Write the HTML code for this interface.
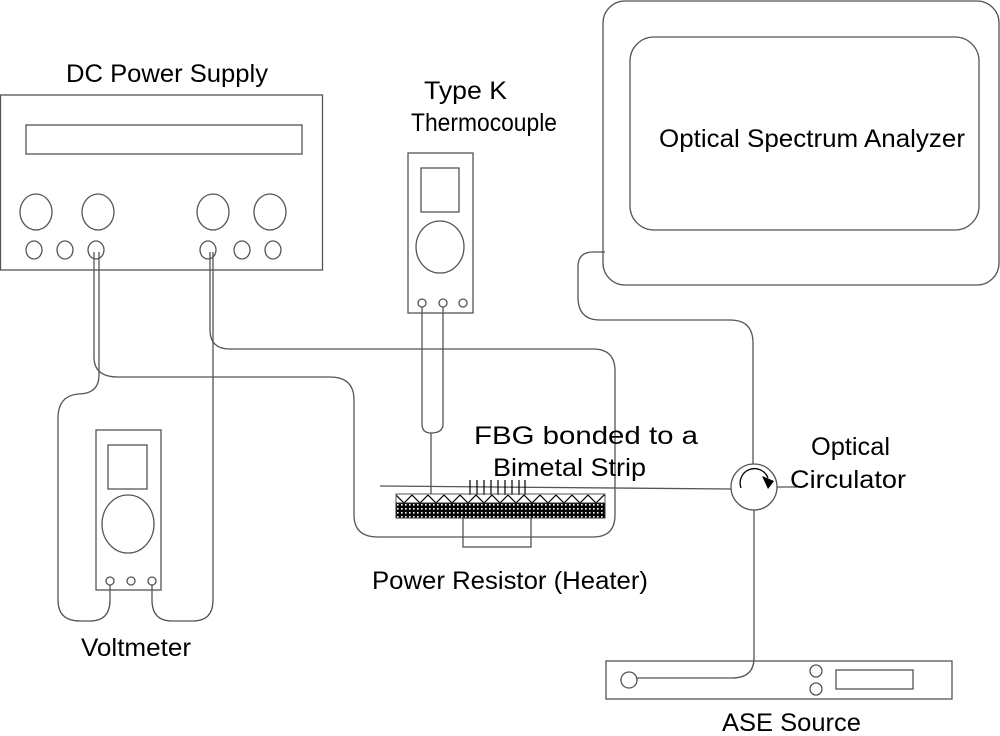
<!DOCTYPE html>
<html><head><meta charset="utf-8"><style>
html,body{margin:0;padding:0;background:#fff;}
svg{display:block;}
text{font-family:"Liberation Sans",Arial,sans-serif;fill:#000;}
</style></head><body>
<svg width="1000" height="736" viewBox="0 0 1000 736" xmlns="http://www.w3.org/2000/svg">
<defs>
<pattern id="tri" x="396" y="494" width="16" height="10" patternUnits="userSpaceOnUse">
<path d="M0,1 L8,9 L16,1" stroke="#000" stroke-width="1.2" fill="none"/>
</pattern>
<pattern id="dots" x="396" y="503" width="4" height="4" patternUnits="userSpaceOnUse">
<rect width="4" height="4" fill="#000"/><rect x="1" y="1" width="1.6" height="1.6" fill="#fff"/>
</pattern>
</defs>
<g fill="none" stroke="#555" stroke-width="1.3">
<rect x="0.5" y="95" width="322" height="175"/>
<rect x="26" y="125" width="276" height="29"/>
<ellipse cx="36" cy="212" rx="16" ry="18"/>
<ellipse cx="98" cy="212" rx="16" ry="18"/>
<ellipse cx="213" cy="212" rx="16" ry="18"/>
<ellipse cx="270" cy="212" rx="16" ry="18"/>
<ellipse cx="34" cy="250" rx="8" ry="9"/>
<ellipse cx="65" cy="250" rx="8" ry="9"/>
<ellipse cx="96" cy="250" rx="8" ry="9"/>
<ellipse cx="208" cy="250" rx="8" ry="9"/>
<ellipse cx="242" cy="250" rx="8" ry="9"/>
<ellipse cx="273" cy="250" rx="8" ry="9"/>
<path d="M94,252 V357 Q94,377 118,377 H330 Q354,377 354,400 V515 Q354,537 378,537 H593 Q615,537 615,515 V371 Q615,349 593,349 H230 Q210,349 210,330 V252"/>
<path d="M99,252 V375 Q99,394 78,394 Q58,396 58,418 V600 Q58,621 80,621 H90 Q110,621 110,600 V585"/>
<path d="M213,252 V600 Q213,621 193,621 H172 Q152,621 152,600 V585"/>
<rect x="96" y="430" width="65" height="160"/>
<rect x="108" y="445" width="39" height="44"/>
<ellipse cx="128" cy="524" rx="26" ry="29"/>
<circle cx="110" cy="581" r="4"/><circle cx="131" cy="581" r="4"/><circle cx="152" cy="581" r="4"/>
<rect x="408" y="153" width="65" height="160"/>
<rect x="421" y="168" width="38" height="44"/>
<ellipse cx="440" cy="247" rx="24" ry="26"/>
<circle cx="422" cy="303" r="4"/><circle cx="443" cy="303" r="4"/><circle cx="463" cy="303" r="4"/>
<path d="M422,307 V424 Q422,433 431,433 Q443,433 443,424 V307"/>
<path d="M431,433 V494"/>
<rect x="463" y="518" width="68" height="29"/>
<path d="M380,486 L731,489"/>
<path d="M777,487 H797"/>
<g stroke="#000" stroke-width="1.2"><path d="M470,480 V495 M477,480 V495 M484,480 V495 M491,480 V495 M498,480 V495 M505,480 V495 M512,480 V495 M519,480 V495 M525,480 V495"/></g>
<circle cx="754" cy="487" r="23"/>
<path d="M741,488 A14,14 0 0 1 768,478" stroke="#000"/>
<path d="M605,252 H593 Q578,252 578,267 V297 Q578,320 600,320 H730 Q753,320 753,343 V464"/>
<path d="M754,510 V658 Q754,678 732,678 H637"/>
<rect x="603" y="1" width="396" height="284" rx="22"/>
<rect x="630" y="37" width="349" height="193" rx="24"/>
<rect x="606" y="661" width="346" height="38"/>
<circle cx="629" cy="680" r="8"/>
<circle cx="816" cy="671" r="6"/><circle cx="816" cy="689" r="6"/>
<rect x="836" y="670" width="77" height="19"/>
</g>
<path d="M774,481 L762,476 L768,489 Z" fill="#000"/>
<rect x="396" y="494" width="209" height="9" fill="url(#tri)" stroke="#555"/>
<rect x="396" y="503" width="209" height="15" fill="url(#dots)" stroke="#333"/>
<g font-size="25">
<text x="66" y="82" textLength="202" lengthAdjust="spacingAndGlyphs">DC Power Supply</text>
<text x="424" y="99" textLength="83" lengthAdjust="spacingAndGlyphs">Type K</text>
<text x="411" y="131" textLength="146" lengthAdjust="spacingAndGlyphs">Thermocouple</text>
<text x="659" y="147" textLength="306" lengthAdjust="spacingAndGlyphs">Optical Spectrum Analyzer</text>
<text x="474" y="444" textLength="224" lengthAdjust="spacingAndGlyphs">FBG bonded to a</text>
<text x="493" y="476" textLength="153" lengthAdjust="spacingAndGlyphs">Bimetal Strip</text>
<text x="811" y="455" textLength="79" lengthAdjust="spacingAndGlyphs">Optical</text>
<text x="790" y="488" textLength="116" lengthAdjust="spacingAndGlyphs">Circulator</text>
<text x="372" y="589" textLength="276" lengthAdjust="spacingAndGlyphs">Power Resistor (Heater)</text>
<text x="81" y="656" textLength="110" lengthAdjust="spacingAndGlyphs">Voltmeter</text>
<text x="722" y="731" textLength="139" lengthAdjust="spacingAndGlyphs">ASE Source</text>
</g>
</svg>
</body></html>
